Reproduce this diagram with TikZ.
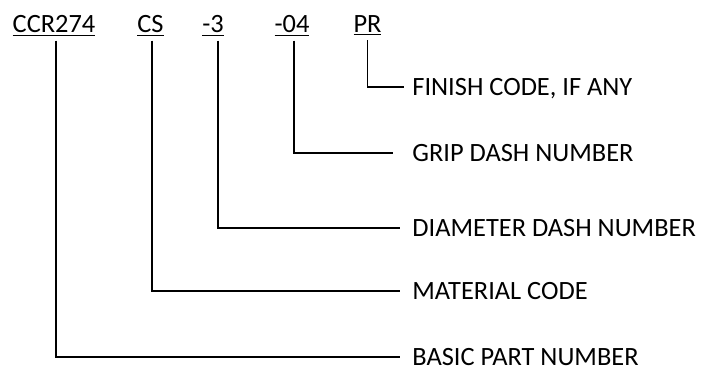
\documentclass[tikz,border=0pt]{standalone}
\usepackage{fontspec}
\setmainfont{Carlito}
\begin{document}
\begin{tikzpicture}[x=0.5bp,y=-0.5bp,font=\fontsize{13.2bp}{15bp}\selectfont,
  code/.style={anchor=base,inner sep=0pt},
  callout/.style={anchor=west,inner sep=0pt,text height=8.5bp,text depth=0pt},
  leader/.style={line width=0.75pt}]
  \useasboundingbox (0,0) rectangle (702,368);
  \node[code] (ccr) at (54,32) {\underline{CCR274}};
  \node[code] (cs) at (150.5,32) {\underline{CS}};
  \node[code] (dia) at (213,32) {\underline{-3}};
  \node[code] (grip) at (292,32) {\underline{-04}};
  \node[code] (pr) at (367.5,32) {\underline{PR}};
  \node[callout] (finish) at (412,87) {FINISH CODE, IF ANY};
  \node[callout] (griplbl) at (412,153) {GRIP DASH NUMBER};
  \node[callout] (dialbl) at (412,228) {DIAMETER DASH NUMBER};
  \node[callout] (matlbl) at (412,291) {MATERIAL CODE};
  \node[callout] (basic) at (412,357) {BASIC PART NUMBER};
  \draw[leader] ([yshift=-2bp]pr.south) |- ([xshift=-4bp]finish.west);
  \draw[leader] ([xshift=1bp,yshift=-2bp]grip.south) |- ([xshift=-9.5bp]griplbl.west);
  \draw[leader] ([xshift=2.5bp,yshift=-2bp]dia.south) |- ([xshift=-6bp]dialbl.west);
  \draw[leader] ([xshift=0.75bp,yshift=-2bp]cs.south) |- ([xshift=-6bp]matlbl.west);
  \draw[leader] ([xshift=1bp,yshift=-2bp]ccr.south) |- ([xshift=-6bp]basic.west);
\end{tikzpicture}
\end{document}
